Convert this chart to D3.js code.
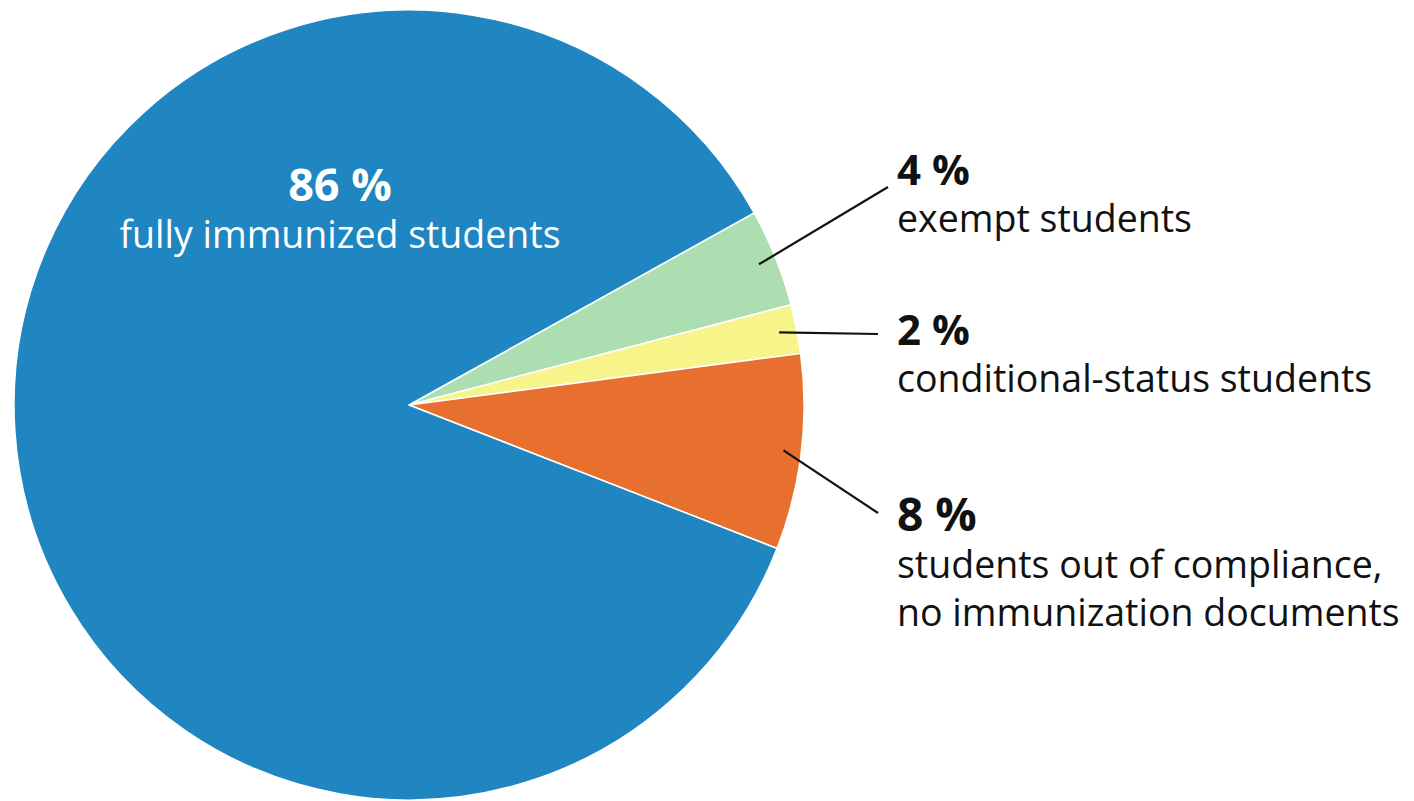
<!DOCTYPE html>
<html>
<head>
<meta charset="utf-8">
<script src="https://cdn.jsdelivr.net/npm/d3@7"></script>
<style>
  html, body { margin: 0; padding: 0; background: #ffffff; }
  svg { display: block; font-family: "Open Sans", "Noto Sans", sans-serif; }
</style>
</head>
<body>
<svg id="chart" width="1414" height="801"></svg>
<script>
// ---- data ----
const categories = ["exempt students", "conditional-status students", "students out of compliance, no immunization documents", "fully immunized students"];
const values = [4, 2, 8, 86];
const valueLabels = ["4 %", "2 %", "8 %", "86 %"];
const descriptionLines = [
  ["exempt students"],
  ["conditional-status students"],
  ["students out of compliance,", "no immunization documents"],
  ["fully immunized students"]
];
const colors = ["#acdeb2", "#f7f48a", "#e8702f", "#1f86c1"];

// ---- layout ----
const W = 1414, H = 801;
const cx = 409, cy = 405, radius = 395;
const startDeg = 60.9;
const descSize = 37.5;
// label layout (x, baseline of the percentage, font-size of percentage, leader end point)
const labelLayout = [
  { x: 897, y: 185, size: 42, lx: 888, ly: 187 },
  { x: 897, y: 345, size: 42, lx: 878, ly: 334 },
  { x: 897, y: 531, size: 46, lx: 878, ly: 513 },
  { x: 340, y: 201, size: 45 }
];
const lineGap = 48;

const svg = d3.select("#chart");
const g = svg.append("g").attr("transform", `translate(${cx},${cy})`);

const data = categories.map((c, i) => ({ cat: c, value: values[i], color: colors[i], label: valueLabels[i], lines: descriptionLines[i], layout: labelLayout[i] }));

const pie = d3.pie()
  .value(d => d.value)
  .sort(null)
  .startAngle(startDeg * Math.PI / 180)
  .endAngle(startDeg * Math.PI / 180 + 2 * Math.PI);

const arc = d3.arc().innerRadius(0).outerRadius(radius);
const arcs = pie(data);

g.selectAll("path.slice")
  .data(arcs)
  .join("path")
  .attr("class", "slice")
  .attr("d", arc)
  .attr("fill", d => d.data.color)
  .attr("stroke", "#ffffff")
  .attr("stroke-width", 1.5)
  .attr("stroke-linejoin", "round");

// leader lines for the small slices
const leaderArc = d3.arc().innerRadius(radius * 0.955).outerRadius(radius * 0.955);
arcs.slice(0, 3).forEach(a => {
  const p = leaderArc.centroid(a);
  svg.append("line")
    .attr("x1", cx + p[0]).attr("y1", cy + p[1])
    .attr("x2", a.data.layout.lx).attr("y2", a.data.layout.ly)
    .attr("stroke", "#111111")
    .attr("stroke-width", 2.2);
});

// outside labels
arcs.slice(0, 3).forEach(a => {
  const L = a.data.layout;
  const t = svg.append("text").attr("fill", "#111111");
  t.append("tspan")
    .attr("x", L.x).attr("y", L.y)
    .attr("font-weight", 700)
    .attr("font-size", L.size)
    .text(a.data.label);
  a.data.lines.forEach((ln, j) => {
    t.append("tspan")
      .attr("x", L.x).attr("y", L.y + lineGap * (j + 1) - 1)
      .attr("font-size", descSize)
      .text(ln);
  });
});

// inside label (largest slice)
const big = arcs[3];
const BL = big.data.layout;
const bt = svg.append("text").attr("fill", "#ffffff").attr("text-anchor", "middle");
bt.append("tspan")
  .attr("x", BL.x).attr("y", BL.y)
  .attr("font-weight", 700)
  .attr("font-size", BL.size)
  .text(big.data.label);
big.data.lines.forEach((ln, j) => {
  bt.append("tspan")
    .attr("x", BL.x).attr("y", BL.y + 47 * (j + 1))
    .attr("font-size", descSize)
    .text(ln);
});
</script>
</body>
</html>
